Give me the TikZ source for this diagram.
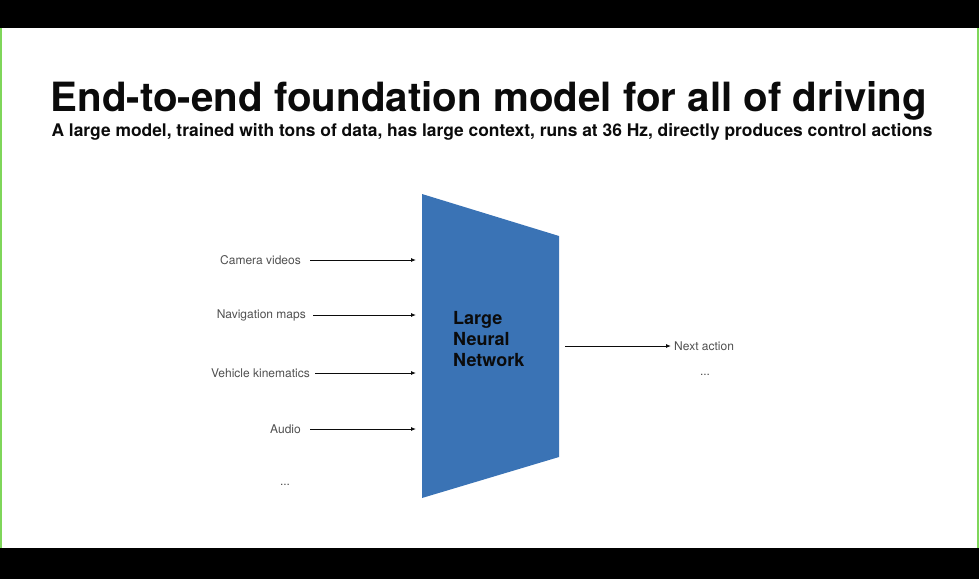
\documentclass[tikz,border=0pt]{standalone}
\usepackage{fontspec}
\setmainfont{TeX Gyre Heros}
\usetikzlibrary{arrows.meta,positioning,calc}
\definecolor{cNet}{HTML}{3A73B5}
\definecolor{cInk}{HTML}{0B0B0B}
\definecolor{cInk2}{HTML}{4F4F4F}
\definecolor{cEdge}{HTML}{7FD65A}
\tikzset{
  inlab/.style={font=\fontsize{12}{14}\selectfont, text=cInk2, inner sep=0pt},
  note/.style={font=\fontsize{12}{14}\selectfont, text=cInk2, inner sep=0pt},
}
\begin{document}
\begin{tikzpicture}[x=1pt, y=-1pt,
  hd/.style={font=\fontsize{40.3}{46}\selectfont\bfseries, text=cInk, anchor=base, inner sep=0pt},
  sub/.style={font=\fontsize{17.4}{20}\selectfont\bfseries, text=cInk, anchor=base, inner sep=0pt},
  netlab/.style={font=\fontsize{18}{21}\selectfont\bfseries, text=cInk, align=left,
    anchor=north west, inner sep=0pt},
  flow/.style={-{Latex[length=5pt,width=4pt]}, line width=0.9pt, color=cInk},
]
\useasboundingbox (0,0) rectangle (979,579);
% ---------------------------------------------------------------- frame
\fill[black] (0,0) rectangle (979,28);
\fill[black] (0,548) rectangle (979,579);
\fill[cEdge] (0,28) rectangle (2,548);
\fill[cEdge] (977,28) rectangle (979,548);
% ---------------------------------------------------------------- titles
\node[hd] (ttl) at (489,111) {End-to-end foundation model for all of driving};
\node[sub] (subttl) at (492,136) {A large model, trained with tons of data, has large context, runs at 36 Hz, directly produces control actions};
% ---------------------------------------------------------------- network
\coordinate (netTL) at (422,194);
\coordinate (netTR) at (559,236);
\coordinate (netBR) at (559,457);
\coordinate (netBL) at (422,498);
\fill[cNet] (netTL) -- (netTR) -- (netBR) -- (netBL) -- cycle;
\node[netlab] (net) at (453,311) {Large\\Neural\\Network};
% ---------------------------------------------------------------- inputs
\node[inlab, anchor=east] (cam) at (301,260) {Camera videos};
\node[inlab, anchor=east] (nav) at (306,315) {Navigation maps};
\node[inlab, anchor=east] (kin) at (310,373) {Vehicle kinematics};
\node[inlab, anchor=east] (aud) at (301,429) {Audio};
\node[inlab] (more) at (285,485) {...};
\coordinate (inCam) at (416,260);
\coordinate (inNav) at (416,315);
\coordinate (inKin) at (416,373);
\coordinate (inAud) at (416,429);
% ---------------------------------------------------------------- output
\coordinate (netOut) at (565,346);
\node[note, anchor=west] (nxt) at (674,346) {Next action};
\node[note] (moreOut) at (705,375) {...};
% ---------------------------------------------------------------- arrows
\draw[flow] ([xshift=9pt]cam.east) -- (inCam);
\draw[flow] ([xshift=7pt]nav.east) -- (inNav);
\draw[flow] ([xshift=5pt]kin.east) -- (inKin);
\draw[flow] ([xshift=9pt]aud.east) -- (inAud);
\draw[flow] (netOut) -- ([xshift=-3pt]nxt.west);
\end{tikzpicture}
\end{document}
